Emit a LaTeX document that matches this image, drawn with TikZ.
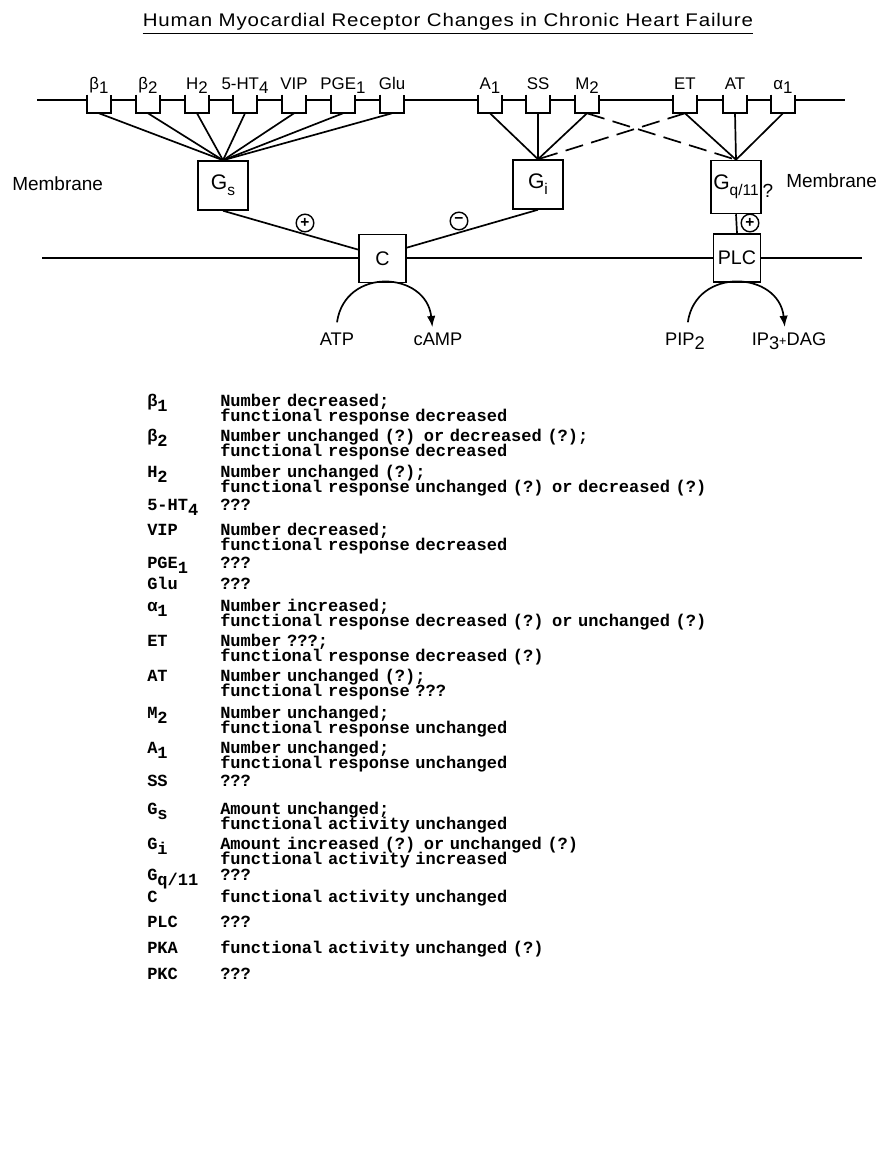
\documentclass[tikz,border=0pt]{standalone}
\usepackage{fontspec}
\setmainfont{Liberation Sans}
\newfontfamily\listmono{Liberation Mono}
\newfontfamily\headfont[LetterSpace=4]{Liberation Sans}
\usetikzlibrary{arrows.meta,positioning}
\newcommand{\rsub}[1]{\raisebox{-0.45ex}{#1}}
\newcommand{\gsub}[1]{\raisebox{-0.55ex}{\fontsize{11}{11}\selectfont #1}}
\newcommand{\lsub}[1]{\raisebox{-0.6ex}{#1}}
\newcommand{\listfont}{\listmono\bfseries\fontsize{12.1}{10.8}\selectfont\lineskiplimit=-10pt}
\tikzset{
  membrane/.style={line width=1.2pt},
  rbox/.style={fill=white,inner sep=0pt,minimum width=0.6cm,minimum height=0.45cm},
  rlab/.style={font=\fontsize{12}{12}\selectfont,inner sep=0pt},
  gbox/.style={draw,fill=white,line width=1.2pt,minimum width=1.25cm,
    minimum height=1.22cm,inner sep=0pt,font=\fontsize{15}{15}\selectfont},
  ebox/.style={draw,fill=white,line width=1.2pt,minimum width=1.18cm,
    minimum height=1.2cm,inner sep=0pt,font=\fontsize{14}{14}\selectfont},
  sign/.style={circle,draw,fill=white,line width=1pt,minimum size=0.44cm,
    inner sep=0pt,font=\bfseries\fontsize{11}{11}\selectfont},
  link/.style={line width=1.2pt},
  dlink/.style={link,dash pattern=on 13pt off 6pt},
  turnover/.style={-{Latex[length=8pt,width=6pt]},line width=1.2pt},
  side/.style={font=\fontsize{13.5}{13.5}\selectfont,inner sep=0pt},
  entry/.style={font=\listfont,anchor=base west,inner sep=0pt},
  note/.style={font=\listfont,anchor=base west,inner sep=0pt,
    text width=15cm,align=left}
}

\begin{document}
\begin{tikzpicture}[x=0.025cm,y=-0.025cm]
\useasboundingbox (0,0) rectangle (877,1176);
% title
\node[inner sep=0pt,anchor=base] (title) at (448,27)
  {\resizebox{15.25cm}{\height}{\headfont\fontsize{13}{13}\selectfont Human Myocardial Receptor Changes in Chronic Heart Failure}};
\draw[line width=0.9pt] ([yshift=-1.5pt]title.south west) -- ([yshift=-1.5pt]title.south east);

% the two membranes
\coordinate (outL) at (37,100);
\coordinate (outR) at (845,100);
\coordinate (inL) at (42,258);
\coordinate (inR) at (862,258);
\draw[membrane] (outL) -- (outR);
\draw[membrane] (inL) -- (inR);
\node[side,anchor=west] (memL) at (12,184) {Membrane};
\node[side,anchor=west] (memR) at (786,181) {Membrane};

% receptors
\node[rbox] (b1) at (99,104) {};
\node[rbox] (b2) at (148,104) {};
\node[rbox] (h2) at (197,104) {};
\node[rbox] (ht4) at (245,104) {};
\node[rbox] (vip) at (294,104) {};
\node[rbox] (pge) at (343,104) {};
\node[rbox] (glu) at (392,104) {};
\node[rbox] (a1) at (490,104) {};
\node[rbox] (ss) at (538,104) {};
\node[rbox] (m2) at (587,104) {};
\node[rbox] (et) at (685,104) {};
\node[rbox] (at) at (735,104) {};
\node[rbox] (al1) at (783,104) {};
\foreach \r in {b1,b2,h2,ht4,vip,pge,glu,a1,ss,m2,et,at,al1}
  \draw[membrane] (\r.north west) |- (\r.south east) -- (\r.north east);
\node[rlab,above=3.5pt of b1,anchor=base] (b1t) {β\rsub{1}};
\node[rlab,above=3.5pt of b2,anchor=base] (b2t) {β\rsub{2}};
\node[rlab,above=3.5pt of h2,anchor=base] (h2t) {H\rsub{2}};
\node[rlab,above=3.5pt of ht4,anchor=base] (ht4t) {5-HT\rsub{4}};
\node[rlab,above=3.5pt of vip,anchor=base] (vipt) {VIP};
\node[rlab,above=3.5pt of pge,anchor=base] (pget) {PGE\rsub{1}};
\node[rlab,above=3.5pt of glu,anchor=base] (glut) {Glu};
\node[rlab,above=3.5pt of a1,anchor=base] (a1t) {A\rsub{1}};
\node[rlab,above=3.5pt of ss,anchor=base] (sst) {SS};
\node[rlab,above=3.5pt of m2,anchor=base] (m2t) {M\rsub{2}};
\node[rlab,above=3.5pt of et,anchor=base] (ett) {ET};
\node[rlab,above=3.5pt of at,anchor=base] (att) {AT};
\node[rlab,above=3.5pt of al1,anchor=base] (al1t) {α\rsub{1}};

% G proteins and effectors
\node[gbox] (gs) at (223,185.5) {G\gsub{s}};
\node[gbox] (gi) at (538,184.5) {G\gsub{i}};
\node[gbox,minimum height=1.32cm] (gq) at (736,187) {G\gsub{q/11}};
\node[side] (gqq) at (768,191) {?};
\node[ebox] (c) at (382.5,258.5) {C};
\node[ebox] (plc) at (737,258) {PLC};

\draw[link] (b1.south) -- (gs.north);
\draw[link] (b2.south) -- (gs.north);
\draw[link] (h2.south) -- (gs.north);
\draw[link] (ht4.south) -- (gs.north);
\draw[link] (vip.south) -- (gs.north);
\draw[link] (pge.south) -- (gs.north);
\draw[link] (glu.south) -- (gs.north);
\draw[link] (a1.south) -- (gi.north);
\draw[link] (ss.south) -- (gi.north);
\draw[link] (m2.south) -- (gi.north);
\draw[link] (et.south) -- (gq.north);
\draw[link] (at.south) -- (gq.north);
\draw[link] (al1.south) -- (gq.north);
\draw[dlink] (m2.south) -- (gq.north);
\draw[dlink] (et.south) -- (gi.north);

\draw[link] (gs.south) -- (c.160);
\draw[link] (gi.south) -- (c.24);
\draw[link] (gq.south) -- (plc.north);
\node[sign] (plus1) at (305,223) {+};
\node[sign] (minus1) at (459,221) {−};
\node[sign] (plus2) at (750,223) {+};

% products
\node[side,anchor=base,font=\fontsize{13}{13}\selectfont] (atp) at (337,345) {ATP};
\node[side,anchor=base,font=\fontsize{13}{13}\selectfont] (camp) at (438,345) {cAMP};
\node[side,anchor=base,font=\fontsize{13}{13}\selectfont] (pip) at (685,345) {PIP\rsub{2}};
\node[side,anchor=base,font=\fontsize{13}{13}\selectfont] (ip) at (789,345) {IP\rsub{3}{\fontsize{9}{9}\selectfont+}DAG};
\draw[turnover] ([yshift=7pt]atp.north) .. controls +(8,-56) and +(-6,-56) .. ([xshift=-4pt,yshift=3.5pt]camp.north);
\draw[turnover] ([xshift=2pt,yshift=7pt]pip.north) .. controls +(8,-56) and +(-6,-56) .. ([xshift=-3pt,yshift=3.5pt]ip.north);

% key
\node[entry] (kb1) at (147,406) {β\lsub{1}};
\node[note] (tb1) at (220,406) {Number decreased;\\functional response decreased};
\node[entry] (kb2) at (147,441) {β\lsub{2}};
\node[note] (tb2) at (220,441) {Number unchanged (?) or decreased (?);\\functional response decreased};
\node[entry] (kh2) at (147,477) {H\lsub{2}};
\node[note] (th2) at (220,477) {Number unchanged (?);\\functional response unchanged (?) or decreased (?)};
\node[entry] (kht4) at (147,510) {5-HT\lsub{4}};
\node[note] (tht4) at (220,510) {???};
\node[entry] (kvip) at (147,535) {VIP};
\node[note] (tvip) at (220,535) {Number decreased;\\functional response decreased};
\node[entry] (kpge) at (147,568) {PGE\lsub{1}};
\node[note] (tpge) at (220,568) {???};
\node[entry] (kglu) at (147,589) {Glu};
\node[note] (tglu) at (220,589) {???};
\node[entry] (kal1) at (147,611) {α\lsub{1}};
\node[note] (tal1) at (220,611) {Number increased;\\functional response decreased (?) or unchanged (?)};
\node[entry] (ket) at (147,646) {ET};
\node[note] (tet) at (220,646) {Number ???;\\functional response decreased (?)};
\node[entry] (kat) at (147,681) {AT};
\node[note] (tat) at (220,681) {Number unchanged (?);\\functional response ???};
\node[entry] (km2) at (147,718) {M\lsub{2}};
\node[note] (tm2) at (220,718) {Number unchanged;\\functional response unchanged};
\node[entry] (ka1) at (147,753) {A\lsub{1}};
\node[note] (ta1) at (220,753) {Number unchanged;\\functional response unchanged};
\node[entry] (kss) at (147,786) {SS};
\node[note] (tss) at (220,786) {???};
\node[entry] (kgs) at (147,814) {G\lsub{s}};
\node[note] (tgs) at (220,814) {Amount unchanged;\\functional activity unchanged};
\node[entry] (kgi) at (147,849) {G\lsub{i}};
\node[note] (tgi) at (220,849) {Amount increased (?) or unchanged (?)\\functional activity increased};
\node[entry] (kgq) at (147,880) {G\lsub{q/11}};
\node[note] (tgq) at (220,880) {???};
\node[entry] (kc) at (147,902) {C};
\node[note] (tc) at (220,902) {functional activity unchanged};
\node[entry] (kplc) at (147,927) {PLC};
\node[note] (tplc) at (220,927) {???};
\node[entry] (kpka) at (147,953) {PKA};
\node[note] (tpka) at (220,953) {functional activity unchanged (?)};
\node[entry] (kpkc) at (147,979) {PKC};
\node[note] (tpkc) at (220,979) {???};
\end{tikzpicture}
\end{document}
